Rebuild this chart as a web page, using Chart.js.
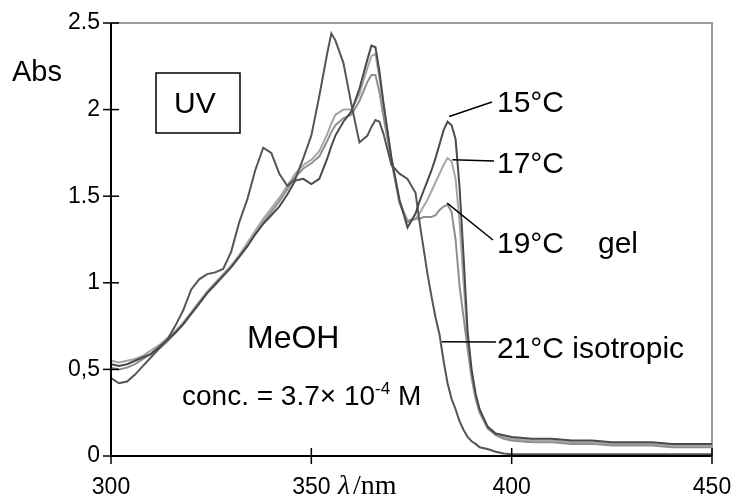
<!DOCTYPE html>
<html>
<head>
<meta charset="utf-8">
<script src="https://cdn.jsdelivr.net/npm/chart.js@4/dist/chart.umd.min.js"></script>
<style>
  html, body { margin: 0; padding: 0; background: #fff; }
  #wrap { width: 736px; height: 500px; }
</style>
</head>
<body>
<div id="wrap"><canvas id="uv" width="736" height="500"></canvas></div>
<script>
// comprimentos de onda (nm) - mesma grade para as 4 curvas
const lambda = [
  300, 302, 304, 306, 308, 310, 312, 314, 316, 318, 320, 322,
  324, 326, 328, 330, 332, 334, 336, 338, 340, 342, 344, 346,
  348, 350, 352, 354, 355, 356, 358, 360, 362, 364, 365, 366,
  367, 368, 370, 372, 374, 376, 377, 378, 379, 380, 381, 382,
  383, 384, 385, 386, 387, 388, 389, 390, 391, 392, 394, 396,
  398, 400, 405, 410, 415, 420, 425, 430, 435, 440, 445, 450
];

const abs15 = [
  0.53, 0.52, 0.53, 0.55, 0.57, 0.59, 0.63, 0.67, 0.71, 0.76, 0.82, 0.88,
  0.94, 0.99, 1.04, 1.09, 1.15, 1.21, 1.28, 1.34, 1.39, 1.44, 1.51, 1.59,
  1.60, 1.57, 1.60, 1.72, 1.79, 1.85, 1.93, 1.99, 2.12, 2.29, 2.37, 2.36,
  2.22, 2.04, 1.72, 1.48, 1.32, 1.40, 1.47, 1.53, 1.59, 1.65, 1.72, 1.80,
  1.88, 1.93, 1.91, 1.83, 1.55, 1.15, 0.72, 0.50, 0.36, 0.27, 0.17, 0.13,
  0.12, 0.11, 0.10, 0.10, 0.09, 0.09, 0.08, 0.08, 0.08, 0.07, 0.07, 0.07
];

const abs17 = [
  0.55, 0.54, 0.55, 0.56, 0.58, 0.61, 0.64, 0.68, 0.72, 0.77, 0.83, 0.89,
  0.95, 1.00, 1.05, 1.10, 1.16, 1.23, 1.30, 1.37, 1.43, 1.49, 1.56, 1.63,
  1.68, 1.71, 1.76, 1.86, 1.92, 1.97, 2.00, 2.00, 2.09, 2.24, 2.31, 2.32,
  2.18, 2.02, 1.72, 1.47, 1.36, 1.37, 1.40, 1.44, 1.48, 1.53, 1.58, 1.63,
  1.68, 1.72, 1.70, 1.60, 1.35, 1.00, 0.68, 0.48, 0.35, 0.26, 0.16, 0.13,
  0.11, 0.10, 0.09, 0.09, 0.08, 0.08, 0.07, 0.07, 0.07, 0.06, 0.06, 0.06
];

const abs19 = [
  0.51, 0.50, 0.51, 0.53, 0.56, 0.59, 0.62, 0.66, 0.71, 0.76, 0.82, 0.88,
  0.94, 0.99, 1.04, 1.09, 1.15, 1.21, 1.28, 1.35, 1.41, 1.47, 1.54, 1.61,
  1.66, 1.69, 1.73, 1.82, 1.87, 1.91, 1.95, 1.97, 2.05, 2.16, 2.20, 2.20,
  2.10, 1.96, 1.70, 1.46, 1.35, 1.37, 1.37, 1.38, 1.38, 1.38, 1.39, 1.42,
  1.44, 1.45, 1.41, 1.25, 0.98, 0.80, 0.62, 0.45, 0.33, 0.25, 0.16, 0.12,
  0.10, 0.09, 0.08, 0.08, 0.07, 0.07, 0.06, 0.06, 0.06, 0.05, 0.05, 0.05
];

const abs21 = [
  0.45, 0.42, 0.43, 0.47, 0.52, 0.57, 0.62, 0.67, 0.75, 0.84, 0.96, 1.02,
  1.05, 1.06, 1.08, 1.18, 1.35, 1.48, 1.65, 1.78, 1.75, 1.63, 1.56, 1.60,
  1.72, 1.85, 2.08, 2.33, 2.44, 2.40, 2.27, 2.03, 1.81, 1.85, 1.90, 1.94,
  1.93, 1.86, 1.68, 1.63, 1.60, 1.52, 1.35, 1.20, 1.05, 0.92, 0.80, 0.70,
  0.55, 0.42, 0.33, 0.27, 0.20, 0.15, 0.11, 0.085, 0.07, 0.05, 0.04, 0.025,
  0.015, 0.01, 0.01, 0.01, 0.01, 0.01, 0.01, 0.01, 0.01, 0.01, 0.01, 0.01
];

const xTicks = ['300', '350', '400', '450'];
const yTicks = ['0', '0,5', '1', '1.5', '2', '2.5'];

const FONTE = '"Liberation Sans", Arial, sans-serif';

const serie = (vals, cor) => ({
  data: vals.map((v, i) => ({ x: lambda[i], y: v })),
  borderColor: cor,
  borderWidth: 2,
  pointRadius: 0,
  tension: 0,
  fill: false
});

// moldura, marcas cruzadas e textos do gráfico
const decoracao = {
  id: 'decoracao',
  beforeDatasetsDraw(chart) {
    const { ctx, chartArea: a } = chart;
    ctx.save();
    ctx.strokeStyle = '#999';
    ctx.lineWidth = 2;
    ctx.beginPath();
    ctx.moveTo(a.left, a.top);
    ctx.lineTo(a.right, a.top);
    ctx.lineTo(a.right, a.bottom);
    ctx.stroke();
    ctx.restore();
  },
  afterDraw(chart) {
    const { ctx, chartArea: a, scales: { x, y } } = chart;
    const linha = (x1, y1, x2, y2) => { ctx.beginPath(); ctx.moveTo(x1, y1); ctx.lineTo(x2, y2); ctx.stroke(); };
    ctx.save();
    ctx.strokeStyle = '#000';
    ctx.lineWidth = 2;
    ctx.beginPath();
    ctx.moveTo(a.left, a.top);
    ctx.lineTo(a.left, a.bottom);
    ctx.lineTo(a.right, a.bottom);
    ctx.stroke();

    ctx.lineWidth = 1.5;
    y.ticks.forEach(t => { const py = y.getPixelForValue(t.value); linha(a.left - 8, py, a.left + 8, py); });
    x.ticks.forEach(t => { const px = x.getPixelForValue(t.value); linha(px, a.bottom - 8, px, a.bottom + 8); });

    // linhas de chamada das temperaturas
    ctx.lineWidth = 1.5;
    linha(x.getPixelForValue(384.4), y.getPixelForValue(1.96), 492, 102);
    linha(x.getPixelForValue(385.2), y.getPixelForValue(1.71), 494, 161);
    linha(x.getPixelForValue(383.9), y.getPixelForValue(1.46), 493, 240);
    linha(x.getPixelForValue(382.6), y.getPixelForValue(0.66), 496, 342);

    // caixa UV
    ctx.lineWidth = 1.5;
    ctx.strokeRect(156, 73, 84, 60);

    ctx.fillStyle = '#000';
    ctx.textBaseline = 'alphabetic';
    ctx.textAlign = 'left';
    ctx.font = '29px ' + FONTE;
    ctx.fillText('Abs', 12, 81);
    ctx.font = '30px ' + FONTE;
    ctx.fillText('UV', 174, 113);
    ctx.fillText('15°C', 497, 112);
    ctx.fillText('17°C', 497, 173);
    ctx.fillText('19°C', 497, 253);
    ctx.fillText('gel', 598, 253);
    ctx.fillText('21°C isotropic', 497, 358);
    ctx.font = '32px ' + FONTE;
    ctx.fillText('MeOH', 247, 348);

    // conc. = 3.7× 10^-4 M
    ctx.font = '28px ' + FONTE;
    let cx = 182;
    const base = 405;
    const t1 = 'conc. = 3.7\u00d7 10';
    ctx.fillText(t1, cx, base);
    cx += ctx.measureText(t1).width;
    ctx.font = '17px ' + FONTE;
    ctx.fillText('-4', cx, base - 11);
    cx += ctx.measureText('-4').width;
    ctx.font = '28px ' + FONTE;
    ctx.fillText(' M', cx, base);

    ctx.font = 'italic 28px "Liberation Serif", "Times New Roman", serif';
    ctx.fillText('\u03bb', 338, 494);
    ctx.font = '28px "Liberation Serif", "Times New Roman", serif';
    ctx.fillText('/nm', 338 + 15, 494);
    ctx.restore();
  }
};

new Chart(document.getElementById('uv'), {
  type: 'line',
  data: {
    datasets: [
      serie(abs15, '#4a4a4a'),
      serie(abs21, '#555555'),
      serie(abs19, '#8f8f8f'),
      serie(abs17, '#a6a6a6')
    ]
  },
  options: {
    responsive: false,
    animation: false,
    devicePixelRatio: 1,
    layout: { padding: { left: 0, top: 23, right: 24, bottom: 0 } },
    plugins: { legend: { display: false }, tooltip: { enabled: false } },
    scales: {
      x: {
        type: 'linear',
        min: 300,
        max: 450,
        border: { display: false },
        grid: { display: false, drawTicks: false },
        ticks: {
          stepSize: 50,
          padding: 18,
          color: '#000',
          font: { family: FONTE, size: 23 },
          callback: (v) => xTicks[(v - 300) / 50] ?? ''
        },
        afterFit: (s) => { s.height = 44; s.paddingLeft = 0; s.paddingRight = 0; }
      },
      y: {
        min: 0,
        max: 2.5,
        border: { display: false },
        grid: { display: false, drawTicks: false },
        ticks: {
          stepSize: 0.5,
          padding: 11,
          color: '#000',
          font: { family: FONTE, size: 23 },
          callback: (v) => yTicks[Math.round(v / 0.5)] ?? ''
        },
        afterFit: (s) => { s.width = 111; s.paddingTop = 0; s.paddingBottom = 0; }
      }
    }
  },
  plugins: [decoracao]
});
</script>
</body>
</html>
